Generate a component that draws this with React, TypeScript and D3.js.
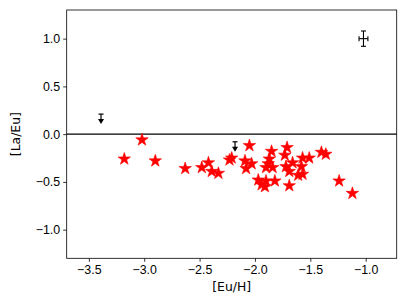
import React, { useEffect, useRef } from 'react'
import { select, scaleLinear, axisBottom, axisLeft, symbol, symbolStar } from 'd3'

// [Eu/H] and [La/Eu] of the detected stars
const euH = [-3.18, -3.02, -2.90, -2.63, -2.48, -2.42, -2.39, -2.33, -2.23, -2.21,
  -2.05, -2.09, -2.03, -2.08, -1.97, -1.94, -1.91, -1.90, -1.85, -1.87,
  -1.88, -1.90, -1.84, -1.82, -1.71, -1.73, -1.72, -1.66, -1.69, -1.57,
  -1.51, -1.58, -1.61, -1.57, -1.69, -1.40, -1.36, -1.24, -1.12]
const laEu = [-0.26, -0.06, -0.28, -0.36, -0.35, -0.30, -0.39, -0.41, -0.27, -0.25,
  -0.12, -0.28, -0.31, -0.36, -0.48, -0.53, -0.55, -0.49, -0.18, -0.26,
  -0.31, -0.35, -0.35, -0.49, -0.14, -0.22, -0.34, -0.30, -0.39, -0.25,
  -0.25, -0.34, -0.43, -0.42, -0.54, -0.19, -0.21, -0.49, -0.62]

// upper limits
const limEuH = [-3.39, -2.18]
const limLaEu = [0.21, -0.08]

// typical error bar
const errPoint = [-1.02, 1.0]
const errX = 0.04
const errY = 0.08

const xTicks = [-3.5, -3.0, -2.5, -2.0, -1.5, -1.0]
const yTicks = [-1.0, -0.5, 0.0, 0.5, 1.0]

function App() {
  const contRef = useRef(null)

  const width = 407, height = 305
  const margin = { top: 10, right: 10.3, bottom: 46.7, left: 66.7 }
  const innerW = width - margin.left - margin.right
  const innerH = height - margin.top - margin.bottom

  useEffect(() => {
    select(contRef.current).selectAll('*').remove()

    const svg = select(contRef.current)
      .append('svg')
      .attr('width', width)
      .attr('height', height)
      .style('display', 'block')
      .style('font-family', '"DejaVu Sans", sans-serif')
      .append('g')
      .attr('transform', `translate(${margin.left},${margin.top})`)

    const x = scaleLinear().domain([-3.7, -0.72]).range([0, innerW])
    const y = scaleLinear().domain([-1.3, 1.3]).range([innerH, 0])

    // axes
    const gx = svg.append('g')
      .attr('transform', `translate(0,${innerH})`)
      .call(axisBottom(x).tickValues(xTicks).tickFormat(d => (d as number).toFixed(1).replace('-', '\u2212')).tickSize(3.5).tickPadding(3))
    gx.selectAll('text').style('font-size', '12.4px').attr('fill', '#000')

    const gy = svg.append('g')
      .call(axisLeft(y).tickValues(yTicks).tickFormat(d => (d as number).toFixed(1).replace('-', '\u2212')).tickSize(3.5).tickPadding(3))
    gy.selectAll('text').style('font-size', '12.4px').attr('fill', '#000')
    svg.selectAll('.domain').remove()
    svg.selectAll('.tick line').attr('stroke', '#000').attr('stroke-width', 0.8)

    // frame
    svg.append('rect')
      .attr('width', innerW).attr('height', innerH)
      .attr('fill', 'none').attr('stroke', '#000').attr('stroke-width', 0.8)

    // zero line
    svg.append('line')
      .attr('x1', 0).attr('x2', innerW)
      .attr('y1', y(0)).attr('y2', y(0))
      .attr('stroke', '#000').attr('stroke-width', 1.3)

    // stars
    svg.selectAll('.star')
      .data(euH.map((v, i) => [v, laEu[i]]))
      .join('path')
      .attr('d', symbol().type(symbolStar).size(48))
      .attr('transform', d => `translate(${x(d[0])},${y(d[1])})`)
      .attr('fill', '#ff0000')
      .attr('stroke', '#ff0000')
      .attr('stroke-width', 0.6)

    // upper limits
    const lims = svg.selectAll('.lim')
      .data(limEuH.map((v, i) => [v, limLaEu[i]]))
      .join('g')
      .attr('transform', d => `translate(${x(d[0])},${y(d[1])})`)
    lims.append('line').attr('x1', -2.5).attr('x2', 2.5).attr('y1', 0).attr('y2', 0).attr('stroke', '#000').attr('stroke-width', 1.2)
    lims.append('line').attr('x1', 0).attr('x2', 0).attr('y1', 0).attr('y2', 6).attr('stroke', '#000').attr('stroke-width', 1.2)
    lims.append('path').attr('d', 'M-3,5 L3,5 L0,10 Z').attr('fill', '#000')

    // error bar
    const ex = x(errPoint[0]), ey = y(errPoint[1])
    const eg = svg.append('g').attr('stroke', '#000').attr('stroke-width', 1.1)
    eg.append('line').attr('x1', ex).attr('x2', ex).attr('y1', y(errPoint[1] + errY)).attr('y2', y(errPoint[1] - errY))
    eg.append('line').attr('x1', x(errPoint[0] - errX)).attr('x2', x(errPoint[0] + errX)).attr('y1', ey).attr('y2', ey)
    eg.append('line').attr('x1', ex - 2.5).attr('x2', ex + 2.5).attr('y1', y(errPoint[1] + errY)).attr('y2', y(errPoint[1] + errY))
    eg.append('line').attr('x1', ex - 2.5).attr('x2', ex + 2.5).attr('y1', y(errPoint[1] - errY)).attr('y2', y(errPoint[1] - errY))
    eg.append('line').attr('x1', x(errPoint[0] - errX)).attr('x2', x(errPoint[0] - errX)).attr('y1', ey - 2.5).attr('y2', ey + 2.5)
    eg.append('line').attr('x1', x(errPoint[0] + errX)).attr('x2', x(errPoint[0] + errX)).attr('y1', ey - 2.5).attr('y2', ey + 2.5)

    // axis labels
    svg.append('text')
      .attr('x', innerW / 2).attr('y', innerH + 33)
      .attr('text-anchor', 'middle')
      .style('font-size', '12.4px')
      .text('[Eu/H]')
    svg.append('text')
      .attr('transform', `translate(${-50.7},${innerH / 2}) rotate(-90)`)
      .attr('text-anchor', 'middle')
      .attr('dominant-baseline', 'central')
      .style('font-size', '12.4px')
      .text('[La/Eu]')
  }, [])

  return (
    <div ref={contRef} style={{ position: 'absolute', left: 0, top: 0 }}></div>
  )
}

export default App
